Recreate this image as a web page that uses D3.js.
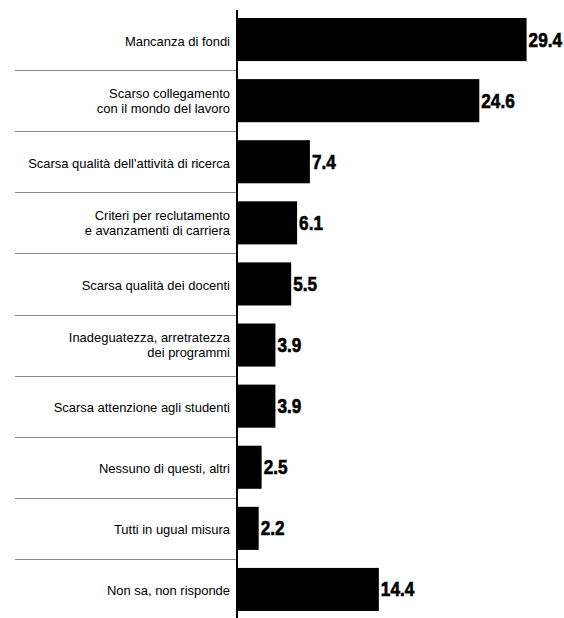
<!DOCTYPE html>
<html>
<head>
<meta charset="utf-8">
<script src="https://cdn.jsdelivr.net/npm/d3@7"></script>
<style>
  body { margin: 0; background: #fff; }
  svg { display: block; }
</style>
</head>
<body>
<div id="chart"></div>
<script>
// Data
var categories = [
    ["Mancanza di fondi"],
    ["Scarso collegamento", "con il mondo del lavoro"],
    ["Scarsa qualità dell'attività di ricerca"],
    ["Criteri per reclutamento", "e avanzamenti di carriera"],
    ["Scarsa qualità dei docenti"],
    ["Inadeguatezza, arretratezza", "dei programmi"],
    ["Scarsa attenzione agli studenti"],
    ["Nessuno di questi, altri"],
    ["Tutti in ugual misura"],
    ["Non sa, non risponde"]
];
var values = [29.4, 24.6, 7.4, 6.1, 5.5, 3.9, 3.9, 2.5, 2.2, 14.4];

var width = 564, height = 618;
var axisX = 237;
var font = "'Liberation Sans', Arial, Helvetica, sans-serif";

var svg = d3.select("#chart")
    .append("svg")
    .attr("width", width)
    .attr("height", height);

var x = d3.scaleLinear()
    .domain([0, 30])
    .range([axisX, axisX + 295.5]);

var y = d3.scaleBand()
    .domain(d3.range(values.length))
    .range([9, 620])
    .paddingInner(0.295)
    .paddingOuter(0.1475);

var gap = y.step() - y.bandwidth();

// separators between rows
svg.selectAll(".sep")
    .data(d3.range(1, values.length))
    .enter().append("line")
    .attr("class", "sep")
    .attr("x1", 15)
    .attr("x2", axisX)
    .attr("y1", function(i){ return Math.round(y(i) - gap / 2) + 0.5; })
    .attr("y2", function(i){ return Math.round(y(i) - gap / 2) + 0.5; })
    .attr("stroke", "#8a8a8a")
    .attr("stroke-width", 1);

// bars
svg.selectAll(".bar")
    .data(values)
    .enter().append("rect")
    .attr("class", "bar")
    .attr("x", x(0))
    .attr("y", function(d, i){ return y(i); })
    .attr("width", function(d){ return x(d) - x(0); })
    .attr("height", y.bandwidth())
    .attr("fill", "#000");

// vertical axis line
svg.append("line")
    .attr("x1", axisX)
    .attr("x2", axisX)
    .attr("y1", 10)
    .attr("y2", height)
    .attr("stroke", "#000")
    .attr("stroke-width", 2);

// category labels (narrowed a bit, like the original condensed face)
var labels = svg.selectAll(".label")
    .data(categories)
    .enter().append("text")
    .attr("class", "label")
    .attr("text-anchor", "end")
    .attr("font-family", font)
    .attr("font-size", "13.5px")
    .attr("fill", "#000");

labels.each(function(lines, i){
    var cy = y(i) + y.bandwidth() / 2;
    var lh = 15;
    var start = lines.length == 1 ? cy + 6 : cy - lh / 2 + 4.5;
    d3.select(this)
        .attr("transform", "translate(230," + start + ") scale(0.96,1)")
        .selectAll("tspan")
        .data(lines)
        .enter().append("tspan")
        .attr("x", 0)
        .attr("y", function(d, j){ return j * lh; })
        .text(function(d){ return d; });
});

// value labels (heavy, condensed)
svg.selectAll(".value")
    .data(values)
    .enter().append("text")
    .attr("class", "value")
    .attr("transform", function(d, i){
        return "translate(" + (x(d) + 2) + "," + (y(i) + y.bandwidth() / 2 + 7) + ") scale(0.86,1)";
    })
    .attr("font-family", font)
    .attr("font-weight", "bold")
    .attr("font-size", "20px")
    .attr("fill", "#000")
    .attr("stroke", "#000")
    .attr("stroke-width", 0.6)
    .text(function(d){ return d3.format(".1f")(d); });
</script>
</body>
</html>
